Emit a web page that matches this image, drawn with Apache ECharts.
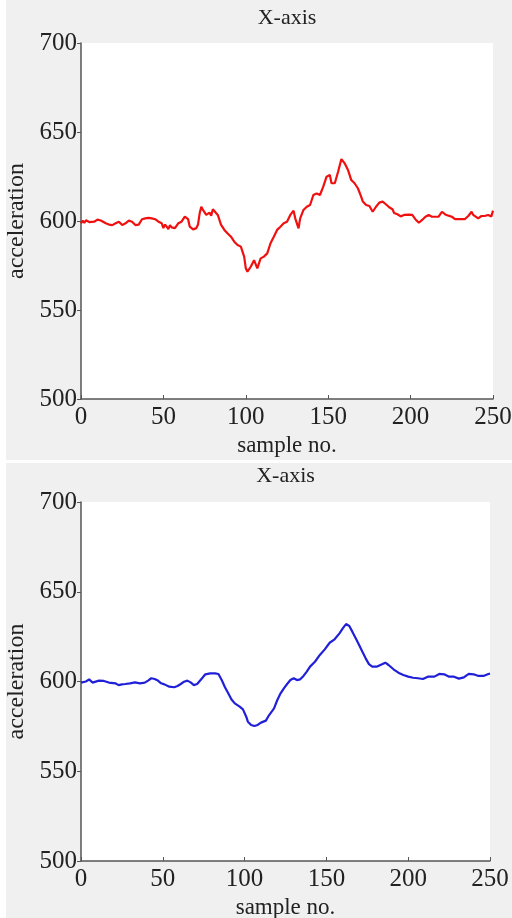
<!DOCTYPE html>
<html>
<head>
<meta charset="utf-8">
<script src="https://cdn.jsdelivr.net/npm/echarts@6/dist/echarts.min.js"></script>
<style>
  html, body { margin: 0; padding: 0; background: #fff; }
  .panel { position: absolute; left: 6px; width: 506px; background: #f0f0f0; }
  #top { top: 0; height: 460px; }
  #bottom { top: 463px; height: 455px; }
</style>
</head>
<body>
<div id="top" class="panel"></div>
<div id="bottom" class="panel"></div>
<script>
// raw accelerometer signal (red)
const rawX = [0, 1, 2, 3, 4, 5, 6, 8, 9, 10, 12, 13, 15, 17, 18, 19, 21, 22, 23, 25, 26, 27, 29, 31, 33, 34, 35, 37, 39, 41, 43, 45, 47, 49, 50, 51, 52, 53, 54, 55, 56, 57, 59, 61, 63, 64, 65, 66, 68, 70, 71, 72, 73, 74, 75, 76, 78, 79, 80, 81, 83, 85, 87, 89, 91, 93, 95, 97, 99, 100, 101, 103, 105, 106, 107, 109, 111, 113, 115, 117, 119, 121, 123, 125, 127, 129, 130, 132, 133, 135, 137, 139, 141, 143, 145, 147, 149, 151, 152, 154, 156, 158, 160, 162, 164, 166, 168, 170, 171, 173, 175, 177, 179, 181, 183, 185, 187, 189, 190, 191, 192, 193, 194, 196, 197, 199, 201, 203, 205, 207, 209, 211, 213, 215, 217, 219, 221, 223, 225, 227, 229, 231, 233, 235, 237, 238, 239, 241, 243, 245, 247, 248, 249, 250]
const rawY = [598.7, 600.2, 599.0, 600.4, 600.5, 599.4, 600.0, 599.6, 600.6, 600.8, 600.3, 599.6, 598.7, 598.0, 598.9, 597.7, 598.7, 598.1, 599.6, 597.7, 598.6, 598.7, 600.2, 599.6, 597.7, 598.8, 598.0, 601.0, 601.5, 601.8, 601.5, 601.0, 599.6, 598.7, 596.0, 598.0, 596.8, 595.5, 597.6, 596.4, 597.5, 596.0, 598.7, 599.6, 602.4, 603.4, 601.0, 596.8, 595.3, 596.0, 598.0, 604.3, 608.0, 606.2, 607.0, 603.4, 604.7, 603.0, 606.6, 607.1, 603.4, 597.8, 595.0, 593.0, 591.2, 588.4, 586.5, 585.6, 580.0, 573.4, 571.5, 574.3, 578.0, 577.2, 573.4, 579.0, 580.0, 581.8, 587.5, 591.2, 595.0, 596.8, 598.7, 599.6, 603.4, 605.8, 601.5, 595.9, 601.5, 606.2, 608.0, 609.0, 614.6, 615.5, 614.6, 619.3, 624.9, 625.8, 621.2, 621.2, 627.7, 634.8, 632.4, 628.7, 623.0, 621.2, 618.4, 613.7, 610.9, 609.0, 608.4, 605.2, 608.0, 610.3, 610.9, 609.4, 607.7, 606.6, 604.5, 605.6, 603.8, 604.3, 602.6, 603.4, 602.8, 603.6, 603.4, 600.9, 599.0, 600.6, 602.4, 603.4, 602.4, 602.4, 602.4, 605.2, 603.7, 603.0, 602.4, 601.1, 601.1, 601.1, 601.1, 602.8, 605.2, 603.4, 602.5, 601.5, 602.8, 602.8, 603.4, 603.4, 602.6, 605.8, 603.4]

// filtered signal (blue)
const filtX = [0, 1, 3, 5, 7, 8, 11, 14, 17, 21, 23, 25, 27, 30, 33, 36, 39, 41, 43, 45, 47, 49, 51, 54, 57, 59, 61, 63, 65, 67, 69, 71, 74, 76, 79, 82, 84, 86, 88, 90, 92, 94, 97, 99, 101, 102, 104, 106, 108, 110, 113, 115, 118, 120, 122, 124, 126, 128, 130, 132, 134, 136, 138, 140, 143, 146, 149, 152, 155, 158, 160, 162, 164, 166, 168, 170, 172, 174, 176, 178, 181, 184, 186, 188, 191, 194, 197, 200, 203, 206, 209, 212, 216, 219, 222, 225, 228, 231, 234, 237, 240, 243, 246, 249, 250]
const filtY = [599.4, 599.0, 600.0, 601.2, 599.4, 600.5, 600.5, 600.3, 599.4, 599.0, 598.0, 598.4, 598.6, 599.0, 599.5, 599.0, 599.4, 600.5, 601.8, 601.4, 600.5, 599.0, 598.4, 597.1, 596.8, 597.5, 598.6, 599.9, 600.5, 599.5, 598.0, 598.6, 601.8, 604.0, 604.5, 604.5, 604.2, 600.8, 596.8, 593.4, 590.0, 587.8, 586.0, 584.5, 580.4, 577.6, 575.8, 575.2, 575.8, 577.1, 578.2, 581.3, 585.0, 589.7, 593.4, 596.2, 598.6, 600.8, 601.8, 600.8, 601.2, 603.1, 605.5, 608.3, 611.0, 614.8, 617.9, 621.6, 623.5, 626.8, 629.6, 632.0, 630.9, 627.5, 624.0, 620.3, 616.6, 612.9, 609.7, 608.3, 608.3, 609.6, 610.5, 609.2, 606.8, 604.9, 603.6, 602.7, 602.1, 601.8, 601.4, 602.7, 602.7, 604.2, 604.0, 602.7, 602.7, 601.6, 602.3, 604.2, 604.0, 603.1, 603.1, 604.2, 604.4]

const FONT = 'Liberation Serif'
const TEXT = '#222'
const AXIS = '#555'

function makeOption(xs, ys, color, grid, titleY) {
  return {
    animation: false,
    graphic: [{
      type: 'text',
      x: grid.left + (506 - grid.left - grid.right) / 2,
      y: titleY,
      style: { text: 'X-axis', fill: TEXT, font: '22px ' + FONT, align: 'center', verticalAlign: 'middle' }
    }],
    grid: { ...grid, outerBoundsMode: 'none', containLabel: false, show: true, backgroundColor: '#fff', borderWidth: 0 },
    xAxis: {
      type: 'value',
      min: 0,
      max: 250,
      interval: 50,
      name: 'sample no.',
      nameLocation: 'middle',
      nameGap: 33,
      nameTextStyle: { fontFamily: FONT, fontSize: 23, color: TEXT },
      axisLine: { onZero: false, lineStyle: { color: AXIS, width: 1.5 } },
      axisTick: { inside: true, length: 4, lineStyle: { color: AXIS } },
      axisLabel: { fontFamily: FONT, fontSize: 25, color: TEXT, margin: 6 },
      splitLine: { show: false }
    },
    yAxis: {
      type: 'value',
      min: 500,
      max: 700,
      interval: 50,
      name: 'acceleration',
      nameLocation: 'middle',
      nameGap: 42,
      nameTextStyle: { fontFamily: FONT, fontSize: 24, color: TEXT },
      axisLine: { show: true, lineStyle: { color: AXIS, width: 1.5 } },
      axisTick: { show: true, length: 4, lineStyle: { color: AXIS } },
      axisLabel: { fontFamily: FONT, fontSize: 25, color: TEXT, margin: 4 },
      splitLine: { show: false }
    },
    series: [{
      type: 'line',
      data: xs.map((x, i) => [x, ys[i]]),
      showSymbol: false,
      lineStyle: { color: color, width: 2.2 }
    }]
  }
}

const topChart = echarts.init(document.getElementById('top'))
topChart.setOption(makeOption(rawX, rawY, '#f01010', { left: 75, right: 19, top: 43, bottom: 61 }, 18))

const bottomChart = echarts.init(document.getElementById('bottom'))
bottomChart.setOption(makeOption(filtX, filtY, '#2020d8', { left: 75, right: 22, top: 39, bottom: 57 }, 13))
</script>
</body>
</html>
